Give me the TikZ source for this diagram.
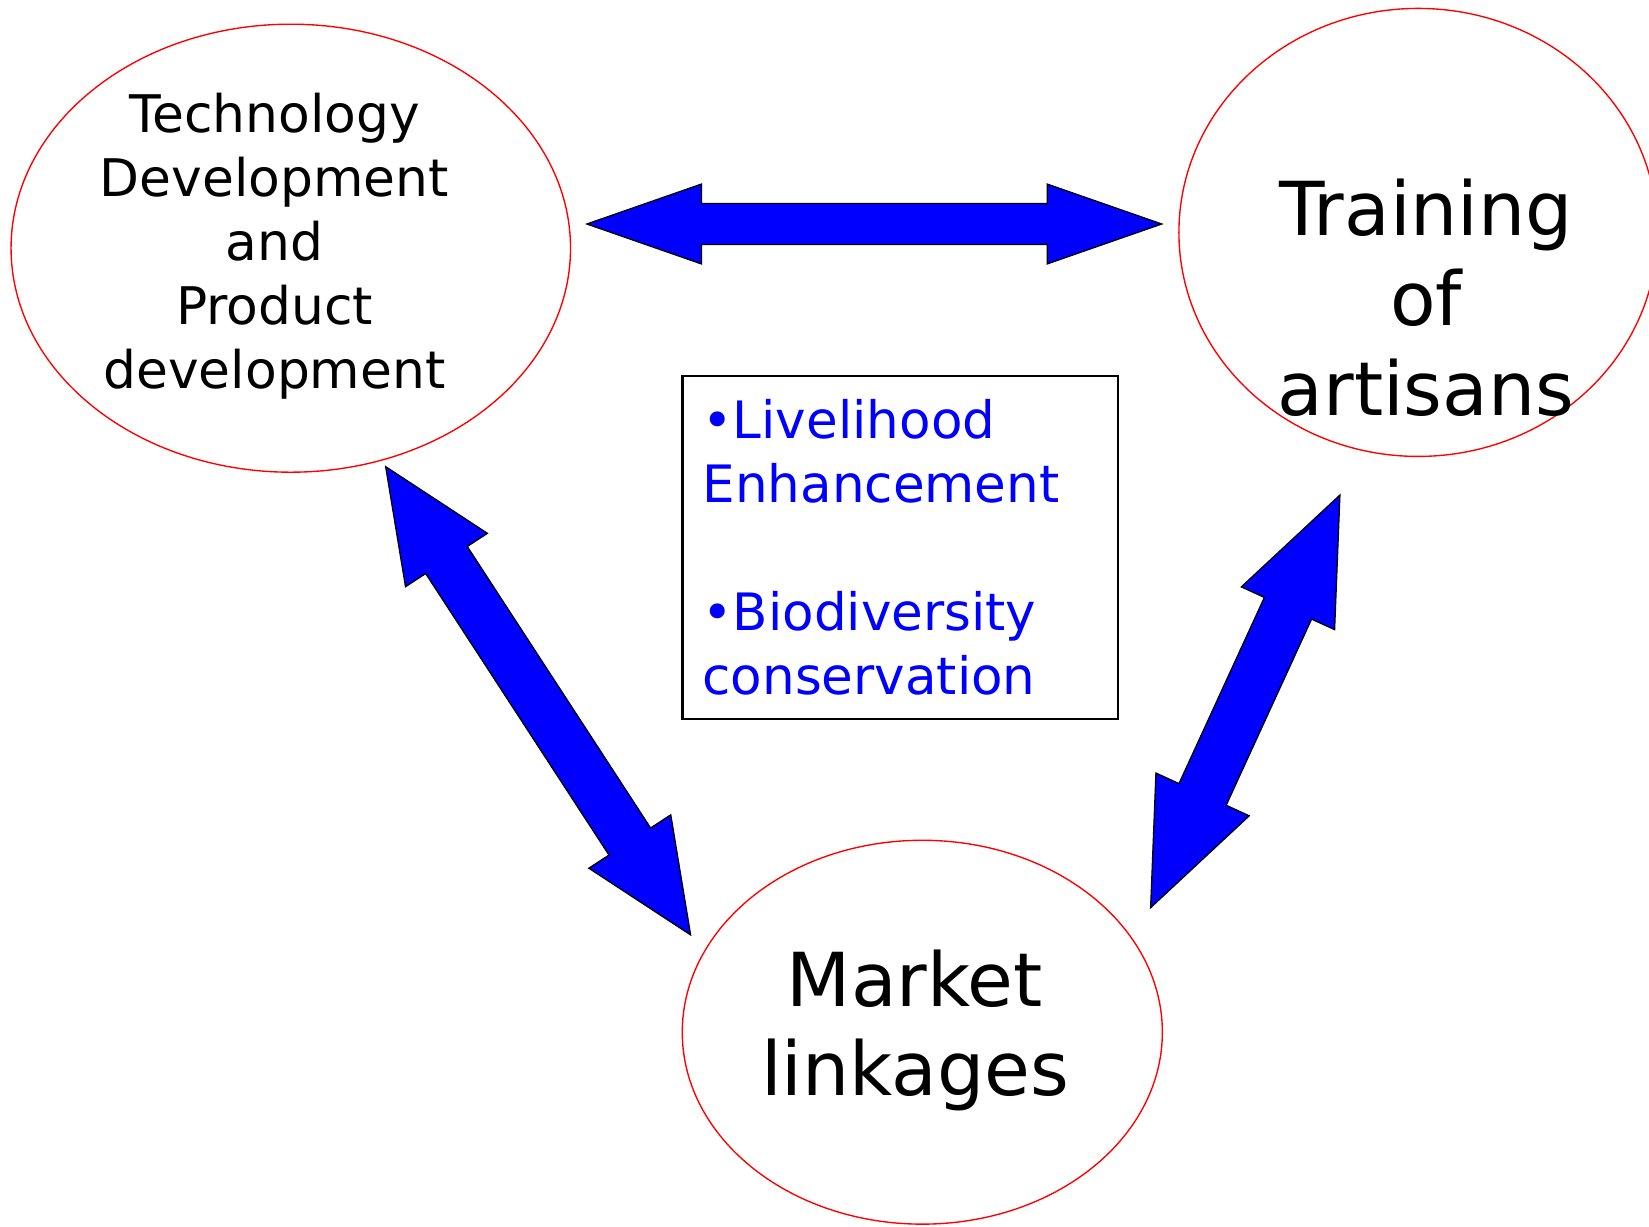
\documentclass[tikz,border=0pt]{standalone}
\usepackage{fontspec}
\setmainfont{DejaVu Sans}
\usetikzlibrary{shapes.geometric,calc}
\definecolor{pblue}{RGB}{0,0,255}
\definecolor{pred}{RGB}{255,0,0}
% #1,#2 tips; #3 head length; #4 head half-width; #5 shaft half-width
\newcommand\blockarrow[5]{%
  \draw[barrow] (#1)
    -- ($(#1)!#3!(#2)!#4!90:(#2)$)
    -- ($(#1)!#3!(#2)!#5!90:(#2)$)
    -- ($(#2)!#3!(#1)!#5!-90:(#1)$)
    -- ($(#2)!#3!(#1)!#4!-90:(#1)$)
    -- (#2)
    -- ($(#2)!#3!(#1)!#4!90:(#1)$)
    -- ($(#2)!#3!(#1)!#5!90:(#1)$)
    -- ($(#1)!#3!(#2)!#5!-90:(#2)$)
    -- ($(#1)!#3!(#2)!#4!-90:(#2)$)
    -- cycle;}
\begin{document}
\begin{tikzpicture}[x=1pt,y=-1pt,
  oval/.style={ellipse, draw=pred, line width=1.3pt, inner sep=0pt, outer sep=0pt},
  midtxt/.style={font=\fontsize{49.3pt}{60.7pt}\selectfont, align=center, inner sep=0pt},
  bigtxt/.style={font=\fontsize{70.8pt}{85.5pt}\selectfont, align=center, inner sep=0pt},
  barrow/.style={fill=pblue, draw=black, line width=1.2pt, line join=miter},
  goalbox/.style={draw=black, line width=2pt, text=pblue,
    font=\fontsize{49pt}{61pt}\selectfont, text width=376pt, align=left,
    inner xsep=19pt, inner ysep=0pt, minimum height=326pt}
]
\fill[white] (0,0) rectangle (1568,1166);
\useasboundingbox (0,0) rectangle (1568,1166);
\clip (0,0) rectangle (1568,1166);

\node[oval, minimum width=532pt, minimum height=426pt] (tech) at (276.5,236) {};
\node[midtxt] (techtxt) at (261,234) {Technology\\Development\\and\\Product\\development};

\node[oval, minimum width=455pt, minimum height=426pt] (train) at (1348.5,221) {};
\node[bigtxt] (traintxt) at (1356,283.5) {Training\\of\\artisans};

\node[oval, minimum width=456.5pt, minimum height=365pt] (market) at (877,981.5) {};
\node[bigtxt] (markettxt) at (870,979.8) {Market\\linkages};

\node[goalbox] (goals) at (856,520.5) {•Livelihood\\Enhancement\\[61pt]•Biodiversity\\conservation};

% arrow tips
\coordinate (h1) at (558,213);
\coordinate (h2) at (1104.7,213);
\coordinate (l1) at (366.7,443.7);
\coordinate (l2) at (656.7,889);
\coordinate (r1) at (1274.1,470.7);
\coordinate (r2) at (1094.1,863.1);

\blockarrow{h1}{h2}{109pt}{38pt}{19.6pt}
\blockarrow{l1}{l2}{106pt}{46.5pt}{23.6pt}
\blockarrow{r1}{r2}{118.5pt}{48.8pt}{24.7pt}
\end{tikzpicture}
\end{document}
